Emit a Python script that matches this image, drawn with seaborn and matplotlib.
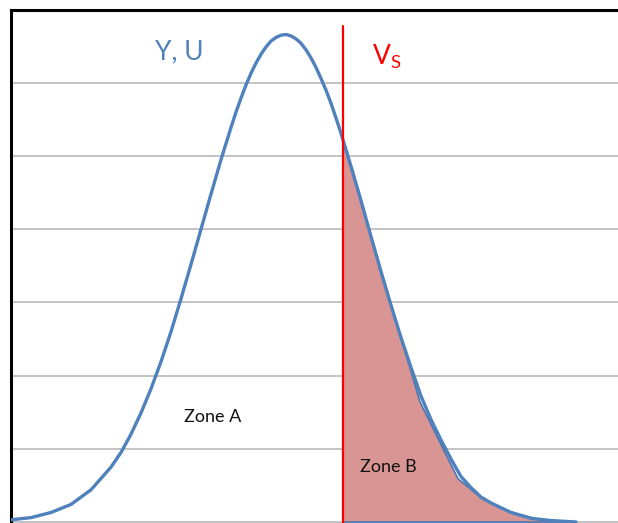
import matplotlib
matplotlib.use("Agg")
import matplotlib.pyplot as plt
import seaborn as sns
import pandas as pd

# Curve Y, U (arbitrary units)
curve_x = [0, 2, 4, 6, 8, 10, 11, 12, 13, 14, 15, 16, 17, 18, 19, 20, 21, 22, 22.5, 23,
           23.5, 24, 24.5, 25, 25.5, 26, 26.5, 27, 27.5, 28, 28.5, 29, 29.5, 30, 30.5,
           31, 31.5, 32, 32.5, 33, 34, 35, 36, 37, 38, 39, 40, 41, 42, 43,
           44, 45, 46, 47, 48, 50, 52, 54, 56.5]
curve_y = [0.03, 0.06, 0.13, 0.24, 0.44, 0.75, 0.95, 1.20, 1.49, 1.82, 2.19, 2.60, 3.05,
           3.52, 4.00, 4.48, 4.95, 5.39, 5.60, 5.79, 5.97, 6.13, 6.27, 6.39, 6.49, 6.57,
           6.62, 6.65, 6.66, 6.64, 6.60, 6.54, 6.45, 6.34, 6.21, 6.06, 5.90, 5.72, 5.52,
           5.31, 4.86, 4.39, 3.90, 3.42, 2.96, 2.52, 2.11, 1.72, 1.40, 1.12,
           0.86, 0.62, 0.47, 0.34, 0.26, 0.13, 0.05, 0.02, 0.0]

# Zone B polygon (coarse points of the shaded area)
zone_b_x = [33.2, 40.9, 44.7, 47.2, 49.9, 52.6, 55.2]
zone_b_y = [5.20, 1.64, 0.59, 0.31, 0.14, 0.04, 0.01]

vs_x = 33.2
vs_top = 6.77

sns.set_style("white")
plt.rcParams['font.family'] = ['Lato', 'DejaVu Sans']

W, H = 618, 523
fig = plt.figure(figsize=(W / 100, H / 100), dpi=100)
ax_left = 11
ax_right = 650
ax_top = 9.6
ax_bottom = 523
ax = fig.add_axes([ax_left / W, 0, (ax_right - ax_left) / W, (ax_bottom - ax_top) / H])

px_per_unit_y = 73.2
ax.set_ylim(-(ax_bottom - 522) / px_per_unit_y, 7)
ax.set_xlim(0, (ax_right - ax_left) / 10)

# gridlines
for g in range(0, 7):
    ax.axhline(g, color="#BEBEBE", lw=1.3, zorder=0)

# Zone B fill
fx = [zone_b_x[0]] + zone_b_x + [zone_b_x[-1]]
fy = [0] + zone_b_y + [0]
ax.fill(fx, fy, facecolor="#D99594", edgecolor="#4A76B0", lw=1.2, zorder=2)

# curve
df = pd.DataFrame({"x": curve_x, "y": curve_y})
sns.lineplot(data=df, x="x", y="y", ax=ax, color="#4F81BD", lw=2.4, zorder=3,
             sort=False)

# Vs line
ax.plot([vs_x, vs_x], [ax.get_ylim()[0], vs_top], color="#FF0000", lw=1.6, zorder=4)

# Labels
ax.text(16.8, 6.42, "Y, U", color="#4F81BD", fontsize=19, ha="center", va="center")
ax.text(37.6, 6.35, r"V$_\mathregular{S}$", color="#FF0000", fontsize=19,
        ha="center", va="center")
ax.text(20.2, 1.44, "Zone A", color="#111111", fontsize=13, ha="center", va="center")
ax.text(37.7, 0.75, "Zone B", color="#111111", fontsize=13, ha="center", va="center")

for s in ["right", "bottom"]:
    ax.spines[s].set_visible(False)
for s in ["left", "top"]:
    ax.spines[s].set_color("black")
    ax.spines[s].set_linewidth(2.2)
ax.set_xticks([])
ax.set_yticks([])
ax.set_xlabel("")
ax.set_ylabel("")

fig.savefig("out.png", dpi=100)
